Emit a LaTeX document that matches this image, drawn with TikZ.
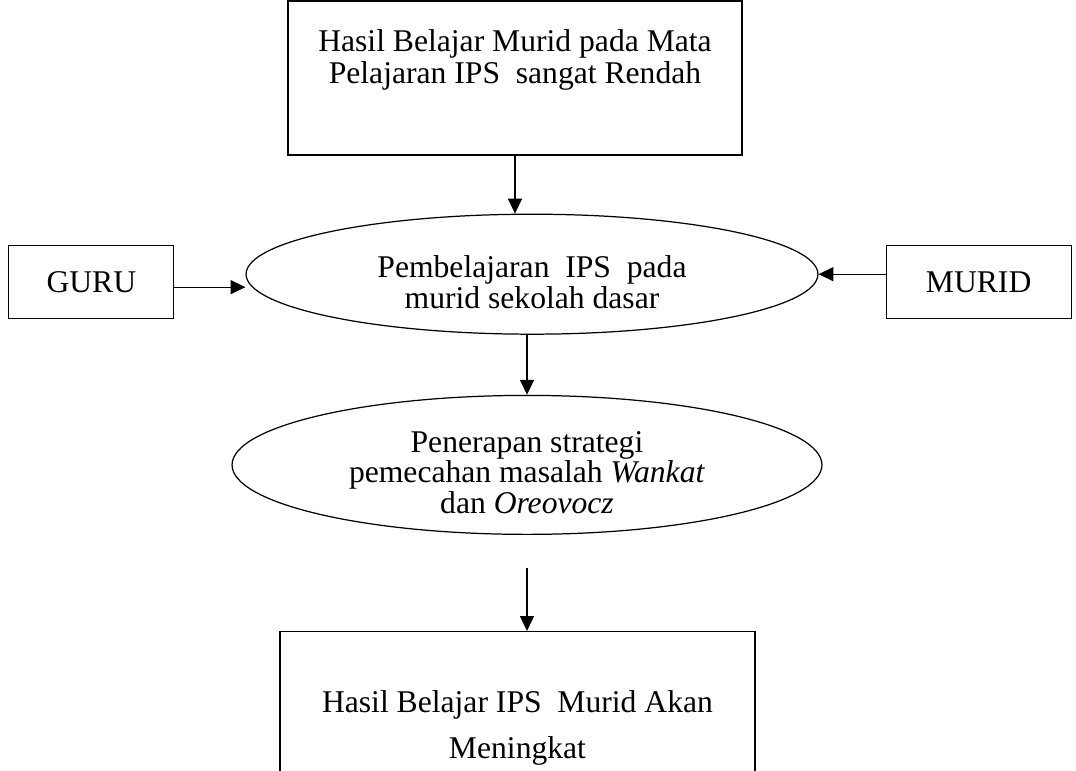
\documentclass[tikz,border=0pt]{standalone}
\usepackage{fontspec}
\setmainfont{Liberation Serif}
\usetikzlibrary{positioning,arrows.meta,shapes.geometric}

\begin{document}
\begin{tikzpicture}[->, >={Triangle[length=8.5pt,width=8pt]}, x=0.02cm, y=-0.02cm,
		line width=0.7pt, font=\fontsize{18}{19}\selectfont,
		kotak/.style={draw, rectangle, inner sep=0pt, align=center},
		oval/.style={draw, ellipse, inner sep=0pt, align=center, font=\fontsize{18}{15.9}\selectfont}]
		\clip (0,0) rectangle (1076,771);

		\node[kotak, minimum width=9.08cm, minimum height=3.08cm, text height=6.8pt, text depth=0pt,
			font=\fontsize{18}{18.7}\selectfont] (masalah) at (515,78) {Hasil Belajar Murid pada Mata\\Pelajaran IPS\ \ sangat Rendah};
		\node[oval, minimum width=11.44cm, minimum height=2.4cm, text height=38.7pt, text depth=-10pt,
			below=1.16cm of masalah, xshift=0.34cm] (pembelajaran) {Pembelajaran\ \ IPS\ \ pada\\murid sekolah dasar};
		\node[kotak, minimum width=3.3cm, minimum height=1.46cm, left=1.42cm of pembelajaran, yshift=-0.16cm] (guru) {GURU};
		\node[kotak, minimum width=3.7cm, minimum height=1.46cm, right=1.34cm of pembelajaran, yshift=-0.16cm] (murid) {MURID};
		\node[oval, minimum width=11.8cm, minimum height=2.78cm, text height=55pt, text depth=0pt,
			below=1.2cm of pembelajaran, xshift=-0.1cm] (strategi) {Penerapan strategi\\pemecahan masalah \textit{Wankat}\\dan \textit{Oreovocz}};
		\node[kotak, minimum width=9.5cm, minimum height=5.08cm, text height=0pt, text depth=0pt,
			font=\fontsize{18}{26}\selectfont, below=1.92cm of strategi, xshift=-0.19cm] (hasil) {Hasil Belajar IPS\ \ Murid Akan\\Meningkat};
		\coordinate[below=0.66cm of strategi.south] (ujung);

		\draw (masalah.south) -- (masalah.south |- pembelajaran.north);
		\draw ([yshift=-0.1cm]guru.east) -- ([yshift=-0.1cm]guru.east -| pembelajaran.west);
		\draw ([yshift=0.16cm]murid.west) -- ([yshift=0.16cm]murid.west -| pembelajaran.east);
		\draw (strategi.north |- pembelajaran.south) -- (strategi.north);
		\draw (ujung) -- (ujung |- hasil.north);
	\end{tikzpicture}
\end{document}
